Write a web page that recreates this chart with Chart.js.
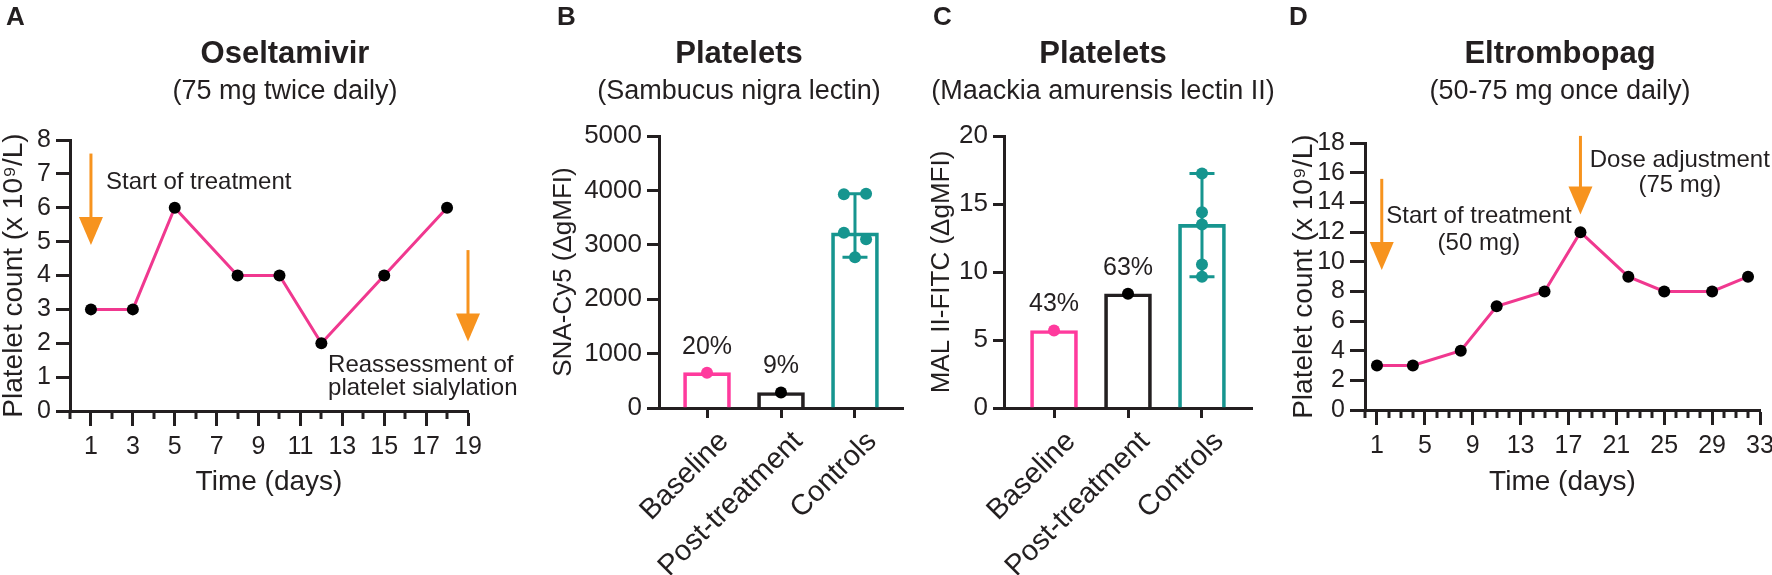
<!DOCTYPE html>
<html><head><meta charset="utf-8">
<script src="https://cdn.jsdelivr.net/npm/chart.js@4.4.1/dist/chart.umd.min.js"></script>
<style>
html,body{margin:0;padding:0;background:#fff;}
#wrap{position:relative;width:1772px;height:575px;overflow:hidden;background:#fff;}
canvas{position:absolute;top:0;}
</style></head><body>
<div id="wrap">
<canvas id="cA" width="545" height="575" style="left:0px;width:545px;height:575px"></canvas>
<canvas id="cB" width="380" height="575" style="left:540px;width:380px;height:575px"></canvas>
<canvas id="cC" width="370" height="575" style="left:920px;width:370px;height:575px"></canvas>
<canvas id="cD" width="487" height="575" style="left:1285px;width:487px;height:575px"></canvas>
</div>
<script>
// ---------- DATA ----------
// Panel A: Oseltamivir
const daysA = [1, 3, 5, 8, 10, 12, 15, 18];
const countsA = [3, 3, 6, 4, 4, 2, 4, 6];
const majorTicksA = [1, 3, 5, 7, 9, 11, 13, 15, 17, 19];
const arrowsA = [{x: 1, from: 7.6, to: 4.9}, {x: 19, from: 4.75, to: 2.05}];
const notesA = [
  {text: 'Start of treatment', x: 1.72, y: 6.76, align: 'left'},
  {text: 'Reassessment of', x: 12.32, y: 1.36, align: 'left'},
  {text: 'platelet sialylation', x: 12.32, y: 0.68, align: 'left'}
];
// Panels B and C
const categories = ['Baseline', 'Post-treatment', 'Controls'];
const snaBars = [650, 285, 3220];
const snaPatient = [650, 285];
const snaControls = [3930, 3940, 3220, 3100, 2770];
const snaControlsJitter = [-0.15, 0.15, -0.15, 0.15, 0];
const snaPct = ['20%', '9%', ''];
const malBars = [5.7, 8.4, 13.5];
const malPatient = [5.7, 8.4];
const malControls = [17.25, 14.4, 13.5, 10.55, 9.65];
const malControlsJitter = [0, 0, 0, 0, 0];
const malPct = ['43%', '63%', ''];
// Panel D: Eltrombopag
const daysD = [1, 4, 8, 11, 15, 18, 22, 25, 29, 32];
const countsD = [3, 3, 4, 7, 8, 12, 9, 8, 8, 9];
const majorTicksD = [1, 5, 9, 13, 17, 21, 25, 29, 33];
const arrowsD = [{x: 1.4, from: 15.6, to: 9.45}, {x: 18, from: 18.5, to: 13.2}];
const notesD = [
  {text: 'Start of treatment', x: 9.52, y: 13.09, align: 'center'},
  {text: '(50 mg)', x: 9.52, y: 11.27, align: 'center'},
  {text: 'Dose adjustment', x: 26.3, y: 16.87, align: 'center'},
  {text: '(75 mg)', x: 26.3, y: 15.19, align: 'center'}
];

// ---------- STYLE ----------
const FONT = "'Liberation Sans', Arial, Helvetica, sans-serif";
const INK = '#231F20';
const PINK = '#F0388F';
const PINKBAR = '#FF3A9D';
const ORANGE = '#F7931E';
const TEAL = '#16958F';

Chart.defaults.font.family = FONT;
Chart.defaults.color = INK;
Chart.defaults.animation = false;
Chart.defaults.events = [];
Chart.defaults.plugins.legend.display = false;
Chart.defaults.plugins.tooltip.enabled = false;

function yAxis(min, max, step, title, tickSize, tickLen, width, titleSize) {
  return {
    type: 'linear', position: 'left', min, max,
    ticks: {stepSize: step, autoSkip: false, font: {size: tickSize}, color: INK, padding: 5,
            callback: v => String(v)},
    grid: {drawOnChartArea: false, drawTicks: true, tickLength: tickLen, tickWidth: 3, tickColor: INK},
    border: {display: true, color: INK, width: 3},
    title: {display: true, text: title, color: INK, font: {size: titleSize, lineHeight: 1}, padding: 0},
    afterFit(s) { s.width = width; }
  };
}
function timeAxis(min, max, major, height) {
  return {
    type: 'linear', position: 'bottom', min, max,
    afterBuildTicks(s) { s.ticks = major.map(v => ({value: v})); },
    ticks: {font: {size: 25}, color: INK, padding: 6, maxRotation: 0, minRotation: 0, autoSkip: false},
    grid: {drawOnChartArea: false, drawTicks: true, tickLength: 15, tickWidth: 3, tickColor: INK},
    border: {display: true, color: INK, width: 3},
    title: {display: true, text: 'Time (days)', color: INK, font: {size: 28, lineHeight: 1}, padding: 0},
    afterFit(s) { s.height = height; s.paddingLeft = 0; s.paddingRight = 0; }
  };
}
function catAxis(min, max, height) {
  return {
    type: 'linear', position: 'bottom', min, max, offset: false,
    afterBuildTicks(s) { s.ticks = categories.map((c, i) => ({value: i + 1})); },
    ticks: {display: false, autoSkip: false, maxRotation: 0, minRotation: 0},
    grid: {offset: false, drawOnChartArea: false, drawTicks: true, tickLength: 10, tickWidth: 3, tickColor: INK},
    border: {display: true, color: INK, width: 3},
    afterFit(s) { s.height = height; s.paddingLeft = 0; s.paddingRight = 0; }
  };
}

function decoPlugin(cfg) {
  return {
    id: 'deco',
    afterDraw(chart) {
      const ctx = chart.ctx, L = cfg.left;
      const xs = chart.scales.x, ys = chart.scales.y;
      ctx.save();
      ctx.fillStyle = INK;
      ctx.textBaseline = 'alphabetic';
      ctx.textAlign = 'left';
      ctx.font = 'bold 26px ' + FONT;
      ctx.fillText(cfg.letter, cfg.letterX - L, 25);
      ctx.textAlign = 'center';
      ctx.font = 'bold 31px ' + FONT;
      ctx.fillText(cfg.title, cfg.titleX - L, 63);
      ctx.font = '27px ' + FONT;
      ctx.fillText(cfg.subtitle, cfg.titleX - L, 99);
      // minor ticks
      if (cfg.minor) {
        ctx.strokeStyle = INK; ctx.lineWidth = 3;
        const b = chart.chartArea.bottom;
        for (let v = Math.ceil(xs.min); v <= xs.max; v++) {
          if (cfg.minor.includes(v)) continue;
          const px = Math.round(xs.getPixelForValue(v));
          ctx.beginPath(); ctx.moveTo(px, b); ctx.lineTo(px, b + 8); ctx.stroke();
        }
      }
      // rotated category labels
      if (cfg.catLabels) {
        ctx.font = '29px ' + FONT;
        ctx.textAlign = 'right';
        ctx.textBaseline = 'middle';
        ctx.fillStyle = INK;
        const y = chart.chartArea.bottom + 29;
        cfg.catLabels.forEach((t, i) => {
          const px = xs.getPixelForValue(i + 1);
          ctx.save();
          ctx.translate(px + 17, y);
          ctx.rotate(-Math.PI / 4);
          ctx.fillText(t, 0, 0);
          ctx.restore();
        });
      }
      // arrows
      (cfg.arrows || []).forEach(a => {
        const px = xs.getPixelForValue(a.x);
        const y0 = ys.getPixelForValue(a.from), y1 = ys.getPixelForValue(a.to);
        const head = 28, hw = 12;
        ctx.strokeStyle = ORANGE; ctx.fillStyle = ORANGE; ctx.lineWidth = 3;
        ctx.beginPath(); ctx.moveTo(px, y0); ctx.lineTo(px, y1 - head + 2); ctx.stroke();
        ctx.beginPath(); ctx.moveTo(px - hw, y1 - head); ctx.lineTo(px + hw, y1 - head); ctx.lineTo(px, y1); ctx.closePath(); ctx.fill();
      });
      // notes
      ctx.fillStyle = INK;
      ctx.font = '24px ' + FONT;
      ctx.textBaseline = 'middle';
      (cfg.notes || []).forEach(n => {
        ctx.textAlign = n.align;
        ctx.fillText(n.text, xs.getPixelForValue(n.x), ys.getPixelForValue(n.y));
      });
      // percent labels
      if (cfg.pct) {
        ctx.textAlign = 'center';
        ctx.font = '25px ' + FONT;
        cfg.pct.forEach((t, i) => {
          if (!t) return;
          ctx.fillText(t, xs.getPixelForValue(i + 1), ys.getPixelForValue(cfg.bars[i]) - 26);
        });
      }
      ctx.restore();
    },
    afterDatasetDraw(chart, args) {
      if (!cfg.errors || args.index !== 0) return;
      const ctx = chart.ctx, xs = chart.scales.x, ys = chart.scales.y;
      const vals = cfg.errors;
      const px = xs.getPixelForValue(3);
      const top = ys.getPixelForValue(Math.max(...vals)), bot = ys.getPixelForValue(Math.min(...vals));
      ctx.save();
      ctx.strokeStyle = TEAL; ctx.lineWidth = 3;
      ctx.beginPath();
      ctx.moveTo(px, top); ctx.lineTo(px, bot);
      ctx.moveTo(px - 12.5, top); ctx.lineTo(px + 12.5, top);
      ctx.moveTo(px - 12.5, bot); ctx.lineTo(px + 12.5, bot);
      ctx.stroke();
      ctx.restore();
    }
  };
}

// ---------- PANEL A ----------
new Chart(document.getElementById('cA'), {
  type: 'line',
  data: {datasets: [{
    data: daysA.map((d, i) => ({x: d, y: countsA[i]})),
    borderColor: PINK, borderWidth: 3, tension: 0, clip: false,
    pointRadius: 6, pointBackgroundColor: '#000', pointBorderWidth: 0
  }]},
  options: {
    responsive: false,
    layout: {padding: {left: 0, right: 77, top: 140, bottom: 79}},
    scales: {
      x: timeAxis(0, 19, majorTicksA, 85),
      y: yAxis(0, 8, 1, 'Platelet count (x 10⁹/L)', 25, 14, 70, 28)
    }
  },
  plugins: [decoPlugin({left: 0, letter: 'A', letterX: 6, title: 'Oseltamivir', subtitle: '(75 mg twice daily)',
    titleX: 285, minor: majorTicksA, arrows: arrowsA, notes: notesA})]
});

// ---------- PANELS B & C ----------
function barPanel(id, left, pad, yCfg, xCfg, bars, patient, controls, jitter, pct, deco) {
  new Chart(document.getElementById(id), {
    type: 'bar',
    data: {datasets: [
      {type: 'bar', order: 3, data: bars.map((v, i) => ({x: i + 1, y: v})),
       backgroundColor: 'rgba(255,255,255,0)', borderColor: [PINKBAR, INK, TEAL], borderWidth: 3,
       barThickness: 47, borderSkipped: 'start'},
      {type: 'scatter', order: 1, data: patient.map((v, i) => ({x: i + 1, y: v})),
       pointRadius: 6, backgroundColor: [PINKBAR, '#000'], borderWidth: 0, clip: false},
      {type: 'scatter', order: 1, data: controls.map((v, i) => ({x: 3 + jitter[i], y: v})),
       pointRadius: 6, backgroundColor: TEAL, borderWidth: 0, clip: false}
    ]},
    options: {
      responsive: false,
      layout: {padding: pad},
      scales: {x: xCfg, y: yCfg}
    },
    plugins: [decoPlugin(Object.assign({left, pct, bars, errors: controls, catLabels: categories}, deco))]
  });
}
barPanel('cB', 540, {left: 11, right: 17, top: 136, bottom: 0},
  yAxis(0, 5000, 1000, 'SNA-Cy5 (ΔgMFI)', 26, 12, 108, 26),
  catAxis(0.351, 3.649, 167),
  snaBars, snaPatient, snaControls, snaControlsJitter, snaPct,
  {letter: 'B', letterX: 557, title: 'Platelets', subtitle: '(Sambucus nigra lectin)', titleX: 739});
barPanel('cC', 920, {left: 9, right: 38, top: 136, bottom: 0},
  yAxis(0, 20, 5, 'MAL II-FITC (ΔgMFI)', 26, 11, 75, 26),
  catAxis(0.324, 3.676, 167),
  malBars, malPatient, malControls, malControlsJitter, malPct,
  {letter: 'C', letterX: 933, title: 'Platelets', subtitle: '(Maackia amurensis lectin II)', titleX: 1103});

// ---------- PANEL D ----------
new Chart(document.getElementById('cD'), {
  type: 'line',
  data: {datasets: [{
    data: daysD.map((d, i) => ({x: d, y: countsD[i]})),
    borderColor: PINK, borderWidth: 3, tension: 0, clip: false,
    pointRadius: 6, pointBackgroundColor: '#000', pointBorderWidth: 0
  }]},
  options: {
    responsive: false,
    layout: {padding: {left: 5, right: 12, top: 143.3, bottom: 79}},
    scales: {
      x: timeAxis(0, 33, majorTicksD, 86),
      y: yAxis(0, 18, 2, 'Platelet count (x 10⁹/L)', 25, 15, 75, 28)
    }
  },
  plugins: [decoPlugin({left: 1285, letter: 'D', letterX: 1289, title: 'Eltrombopag', subtitle: '(50-75 mg once daily)',
    titleX: 1560, minor: majorTicksD, arrows: arrowsD, notes: notesD})]
});
</script>
</body></html>
